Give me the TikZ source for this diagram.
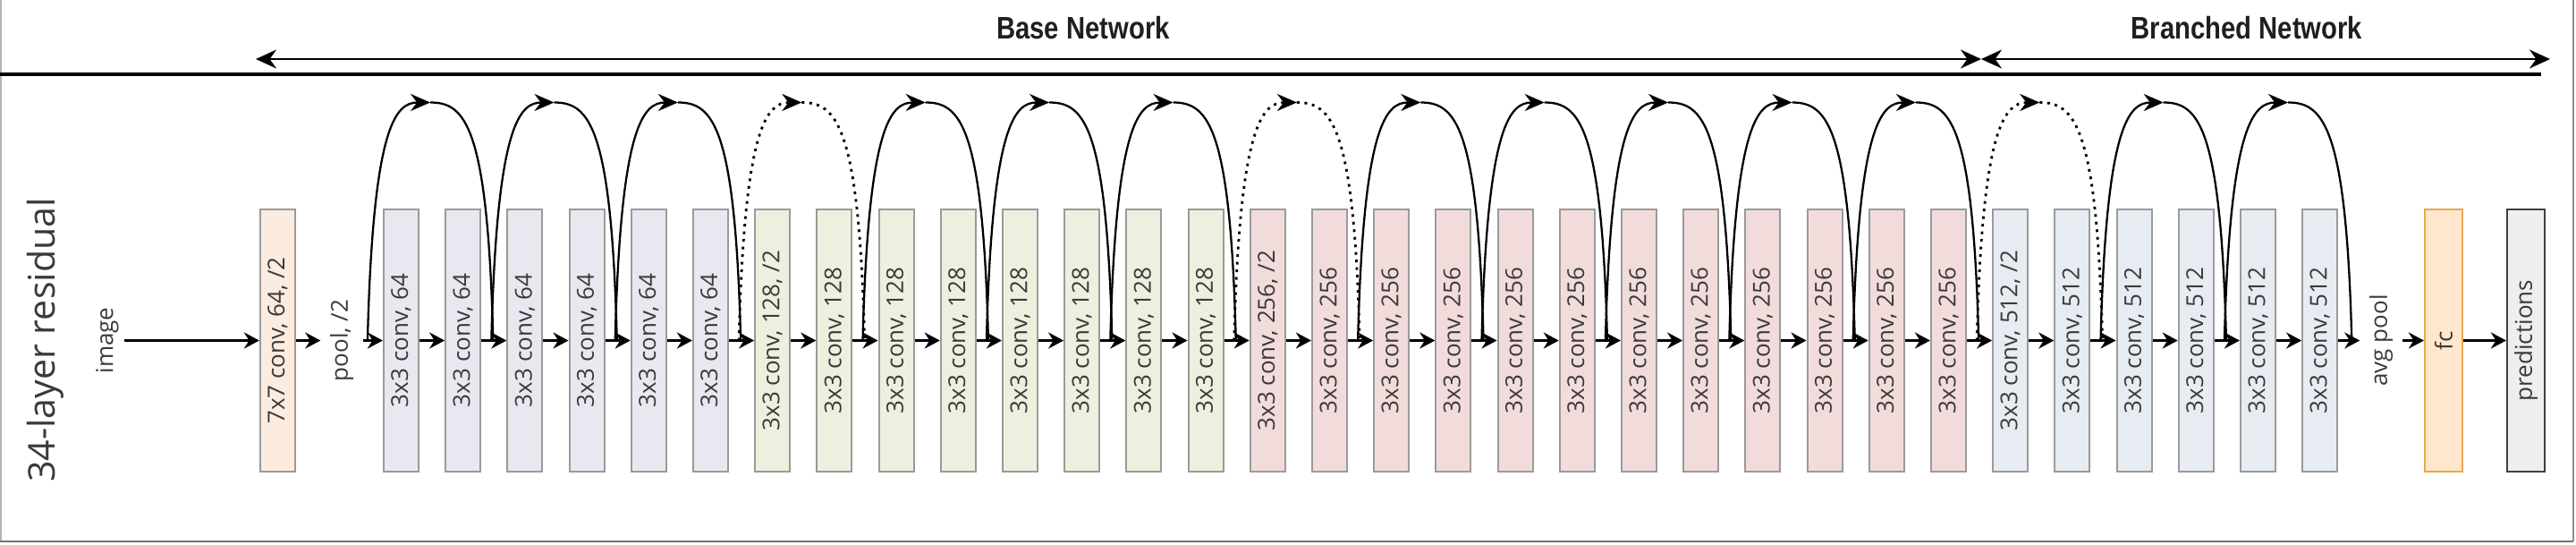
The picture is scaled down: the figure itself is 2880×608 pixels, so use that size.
\documentclass[tikz,border=0pt]{standalone}
\usepackage{fontspec}
\setmainfont{Open Sans}
\newfontfamily\hdfont[FakeStretch=0.84]{Liberation Sans}
\usetikzlibrary{arrows.meta,calc}
\definecolor{c77}{HTML}{FCEBDF}
\definecolor{c64}{HTML}{E8E8F0}
\definecolor{c128}{HTML}{EBF1DE}
\definecolor{c256}{HTML}{F2DCDB}
\definecolor{c512}{HTML}{E7ECF3}
\definecolor{cfc}{HTML}{FFE6CC}
\definecolor{cfcb}{HTML}{E8A850}
\definecolor{cpred}{HTML}{EEEEEE}
\definecolor{bord}{HTML}{9A9A9A}
\definecolor{txt}{HTML}{3A3A3A}
\newcommand\convbox[3]{\node[layer,fill=#3] (b#1) at ({429+69.2*#1+19.5},380.5) {\rotatebox{90}{#2}};}
\begin{document}
\begin{tikzpicture}[x=0.01cm,y=-0.01cm,
  layer/.style={draw=bord, line width=0.6pt, minimum width=0.39cm, minimum height=2.93cm, inner sep=0pt, text=txt, font=\fontsize{7.4}{8}\selectfont},
  lbl/.style={inner sep=0.1cm, text=txt, font=\fontsize{7.4}{8}\selectfont},
  mainarrow/.style={line width=0.8pt, -{Stealth[length=0.17cm,width=0.18cm]}},
  arcline/.style={line width=0.65pt},
  arctip/.style={-{Stealth[length=0.22cm,width=0.19cm]}},
  dotline/.style={line width=0.8pt, dash pattern=on 0.03cm off 0.055cm},
  toparrow/.style={line width=0.55pt, {Stealth[length=0.23cm,width=0.21cm]}-{Stealth[length=0.23cm,width=0.21cm]}},
  heading/.style={font=\hdfont\bfseries\fontsize{9.9}{11}\selectfont, text=black!88}
]
\useasboundingbox (0,0) rectangle (2880,608);
% frame
\draw[color=black!30, line width=0.5pt] (0.8,0) -- (0.8,605);
\draw[color=black!55, line width=0.6pt] (0,605) -- (2877,605);
\draw[color=black!45, line width=0.5pt] (2877,0) -- (2877,605);
\draw[line width=1.2pt] (0,83) -- (2841,83);
% top arrows
\coordinate (bl) at (286,66);
\coordinate (bm) at (2215,66);
\coordinate (br) at (2851,66);
\draw[toparrow] (bl) -- (bm);
\draw[toparrow] (bm) -- (br);
\node[heading] (basen) at (1211,31) {Base Network};
\node[heading] (bran) at (2512,31) {Branched Network};
% side title
\node[rotate=90, text=txt, font=\fontsize{11.7}{13}\selectfont] (title) at (51,380) {34-layer residual};
% input
\node[lbl, inner sep=0.06cm] (img) at (120,380.5) {\rotatebox{90}{image}};
\node[layer, fill=c77] (k7) at (310.5,380.5) {\rotatebox{90}{7x7 conv, 64, /2}};
\node[lbl] (pool) at (382,380.5) {\rotatebox{90}{pool, /2}};
% conv boxes
\convbox{0}{3x3 conv, 64}{c64}
\convbox{1}{3x3 conv, 64}{c64}
\convbox{2}{3x3 conv, 64}{c64}
\convbox{3}{3x3 conv, 64}{c64}
\convbox{4}{3x3 conv, 64}{c64}
\convbox{5}{3x3 conv, 64}{c64}
\convbox{6}{3x3 conv, 128, /2}{c128}
\convbox{7}{3x3 conv, 128}{c128}
\convbox{8}{3x3 conv, 128}{c128}
\convbox{9}{3x3 conv, 128}{c128}
\convbox{10}{3x3 conv, 128}{c128}
\convbox{11}{3x3 conv, 128}{c128}
\convbox{12}{3x3 conv, 128}{c128}
\convbox{13}{3x3 conv, 128}{c128}
\convbox{14}{3x3 conv, 256, /2}{c256}
\convbox{15}{3x3 conv, 256}{c256}
\convbox{16}{3x3 conv, 256}{c256}
\convbox{17}{3x3 conv, 256}{c256}
\convbox{18}{3x3 conv, 256}{c256}
\convbox{19}{3x3 conv, 256}{c256}
\convbox{20}{3x3 conv, 256}{c256}
\convbox{21}{3x3 conv, 256}{c256}
\convbox{22}{3x3 conv, 256}{c256}
\convbox{23}{3x3 conv, 256}{c256}
\convbox{24}{3x3 conv, 256}{c256}
\convbox{25}{3x3 conv, 256}{c256}
\convbox{26}{3x3 conv, 512, /2}{c512}
\convbox{27}{3x3 conv, 512}{c512}
\convbox{28}{3x3 conv, 512}{c512}
\convbox{29}{3x3 conv, 512}{c512}
\convbox{30}{3x3 conv, 512}{c512}
\convbox{31}{3x3 conv, 512}{c512}
\node[lbl] (avg) at (2662,380.5) {\rotatebox{90}{avg pool}};
\node[layer, fill=cfc, draw=cfcb, minimum width=0.42cm] (fc) at (2732,380.5) {\rotatebox{90}{fc}};
\node[layer, fill=cpred, draw=black!75, minimum width=0.42cm] (pred) at (2824,380.5) {\rotatebox{90}{predictions}};
% main arrows
\draw[mainarrow] (img.east) -- (k7.west);
\draw[mainarrow] (k7.east) -- (pool.west);
\draw[mainarrow] (pool.east) -- (b0.west);
\foreach \i in {0,...,30} {
  \pgfmathtruncatemacro\n{\i+1}
  \draw[mainarrow] (b\i.east) -- (b\n.west);
}
\draw[mainarrow] (b31.east) -- (avg.west);
\draw[mainarrow] (avg.east) -- (fc.west);
\draw[mainarrow] (fc.east) -- (pred.west);
% shortcut arcs
\foreach \k in {0,...,15} {
  \pgfmathtruncatemacro\s{2*\k}
  \pgfmathtruncatemacro\e{2*\k+2}
  \coordinate (s\k) at ($(b\s.west)+(-17,0)$);
  \ifnum\k=15
    \coordinate (e\k) at ($(b31.east)+(15,0)$);
  \else
    \coordinate (e\k) at ($(b\e.west)+(-15,0)$);
  \fi
  \coordinate (t\k) at ($(s\k)!0.5!(e\k)+(0,-266)$);
  \ifnum\k=3 \def\sty{dotline}\else\ifnum\k=7 \def\sty{dotline}\else\ifnum\k=13 \def\sty{dotline}\else\def\sty{solid}\fi\fi\fi
  \draw[arcline,\sty,arctip] (s\k) .. controls +(6,-240) and +(-39,0) .. (t\k);
  \draw[arcline,\sty] (t\k) .. controls +(39,0) and +(-6,-240) .. (e\k);
}
\end{tikzpicture}
\end{document}
